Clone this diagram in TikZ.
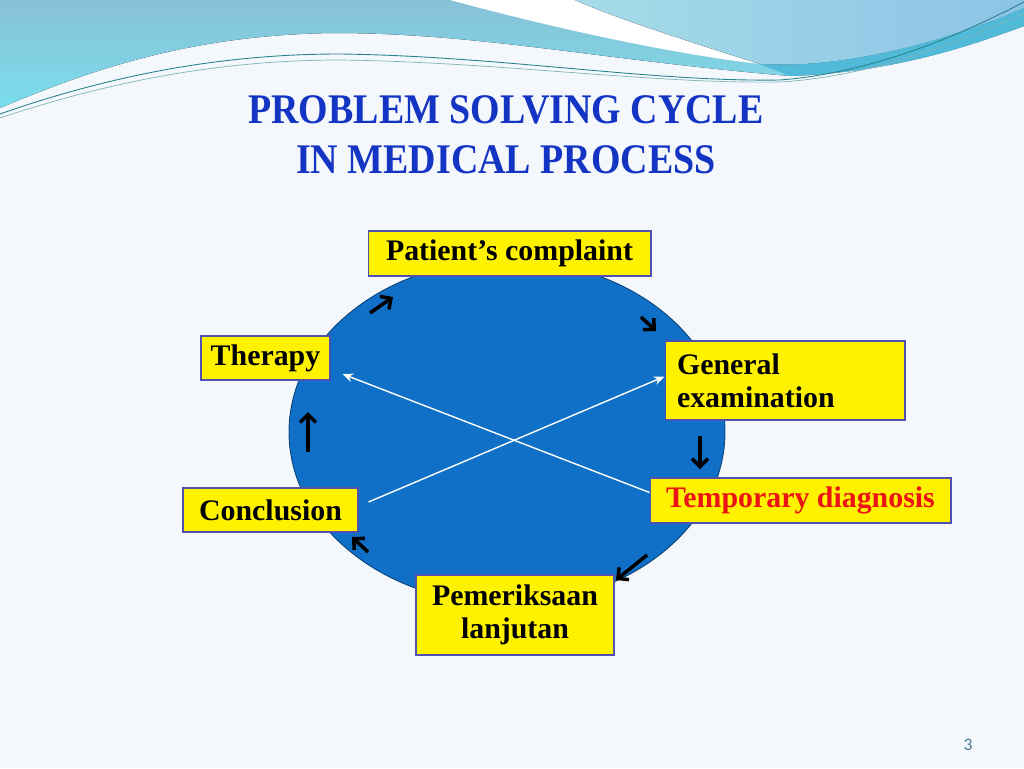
\documentclass[tikz,border=0pt]{standalone}
\usepackage{fontspec}
\usepackage{tikz}
\usetikzlibrary{arrows.meta}
\newfontfamily\titlefont[FakeStretch=0.9]{Liberation Serif}
\newfontfamily\boxfont{Liberation Serif}
\newfontfamily\pagefont{Carlito}

\definecolor{bgpaper}{RGB}{244,248,252}
\definecolor{wavetop}{RGB}{136,192,214}
\definecolor{wavebot}{RGB}{122,222,236}
\definecolor{waveright}{RGB}{166,220,232}
\definecolor{waveleft}{RGB}{140,196,230}
\definecolor{swoosh}{RGB}{80,186,216}
\definecolor{thinline}{RGB}{40,130,140}
\definecolor{titleblue}{RGB}{20,52,196}
\definecolor{cycleblue}{RGB}{16,112,200}
\definecolor{boxline}{RGB}{80,80,176}
\definecolor{diagred}{RGB}{235,20,20}
\definecolor{pagegray}{RGB}{74,122,154}

\tikzset{
  stepbox/.style={draw=boxline, line width=0.6pt, fill=yellow, inner sep=0pt,
    font=\boxfont\bfseries\fontsize{17}{19}\selectfont},
  cyclearrow/.style={line width=2pt, -{Straight Barb[length=4.5pt,width=9pt]}},
  crossline/.style={white, line width=0.8pt, -{Stealth[length=6pt,width=5pt]}}
}

\begin{document}
\begin{tikzpicture}[x=0.02cm, y=-0.02cm]

        \useasboundingbox (0,0) rectangle (1024,768);

        % Paper
        \fill[bgpaper] (0,0) rectangle (1024,768);

        % Waves at the top
        \fill[top color=wavetop, bottom color=wavebot] (0,0) -- (0,108)
            .. controls (90,70) and (190,35) .. (333,33)
            .. controls (480,33) and (600,60) .. (790,76)
            .. controls (900,72) and (980,42) .. (1024,26) -- (1024,0) -- cycle;
        \fill[white] (450,0) .. controls (560,30) and (680,55) .. (760,64)
            .. controls (700,45) and (620,20) .. (575,0) -- cycle;
        \fill[left color=waveright, right color=waveleft] (575,0)
            .. controls (620,20) and (700,45) .. (760,64)
            .. controls (850,70) and (960,36) .. (1024,8) -- (1024,0) -- cycle;
        \fill[swoosh] (760,64) .. controls (850,70) and (960,36) .. (1024,8)
            -- (1024,26) .. controls (980,42) and (900,72) .. (790,76)
            .. controls (780,72) and (770,68) .. (760,64) -- cycle;
        \draw[thinline, line width=0.5pt] (0,114) .. controls (120,72) and (230,54) .. (340,54)
            .. controls (500,56) and (650,82) .. (780,80)
            .. controls (880,72) and (970,30) .. (1024,2);
        \draw[thinline!60, line width=0.4pt] (0,118) .. controls (120,78) and (230,60) .. (340,60)
            .. controls (500,62) and (650,84) .. (780,82)
            .. controls (880,76) and (970,36) .. (1024,14);

        % Title
        \node[font=\titlefont\bfseries\fontsize{24}{28.5}\selectfont, text=titleblue, align=center]
            (title) at (506,135) {PROBLEM SOLVING CYCLE\\IN MEDICAL PROCESS};

        % Cycle
        \draw[cycleblue!60!black, line width=0.5pt, fill=cycleblue] (507,432) ellipse (218 and 172);

        % Steps
        \node[stepbox, minimum width=5.66cm, minimum height=0.9cm] (complaint) at (509.5,253.5) {Patient’s complaint};
        \node[stepbox, minimum width=2.58cm, minimum height=0.88cm] (therapy) at (265.5,358) {Therapy};
        \node[stepbox, minimum width=4.8cm, minimum height=1.58cm, text width=4.32cm, align=left] (exam) at (785,380.5) {General\\examination};
        \node[stepbox, minimum width=6.02cm, minimum height=0.9cm, text=diagred] (diagnosis) at (800.5,500.5) {Temporary diagnosis};
        \node[stepbox, minimum width=3.5cm, minimum height=0.88cm] (conclusion) at (270.5,510) {Conclusion};
        \node[stepbox, minimum width=3.96cm, minimum height=1.6cm, align=center] (further) at (515,615) {Pemeriksaan\\lanjutan};

        % Arrows round the cycle
        \draw[cyclearrow] (370,313) -- (393,297);
        \draw[cyclearrow] (641,317) -- (656,331);
        \draw[cyclearrow] (700,436) -- (700,469);
        \draw[cyclearrow] (647,555) -- (616,580);
        \draw[cyclearrow] (368,552) -- (352,537);
        \draw[cyclearrow] (308,452) -- (308,412);

        % Cross lines
        \draw[crossline] ([shift={(10,-8)}]conclusion.east) -- ([shift={(0,-4)}]exam.west);
        \draw[crossline] ([shift={(0,-8)}]diagnosis.west) -- ([shift={(12,16)}]therapy.east);

        % Page number
        \node[font=\pagefont\fontsize{10}{12}\selectfont, text=pagegray] (page) at (968,745) {3};

    \end{tikzpicture}
\end{document}
